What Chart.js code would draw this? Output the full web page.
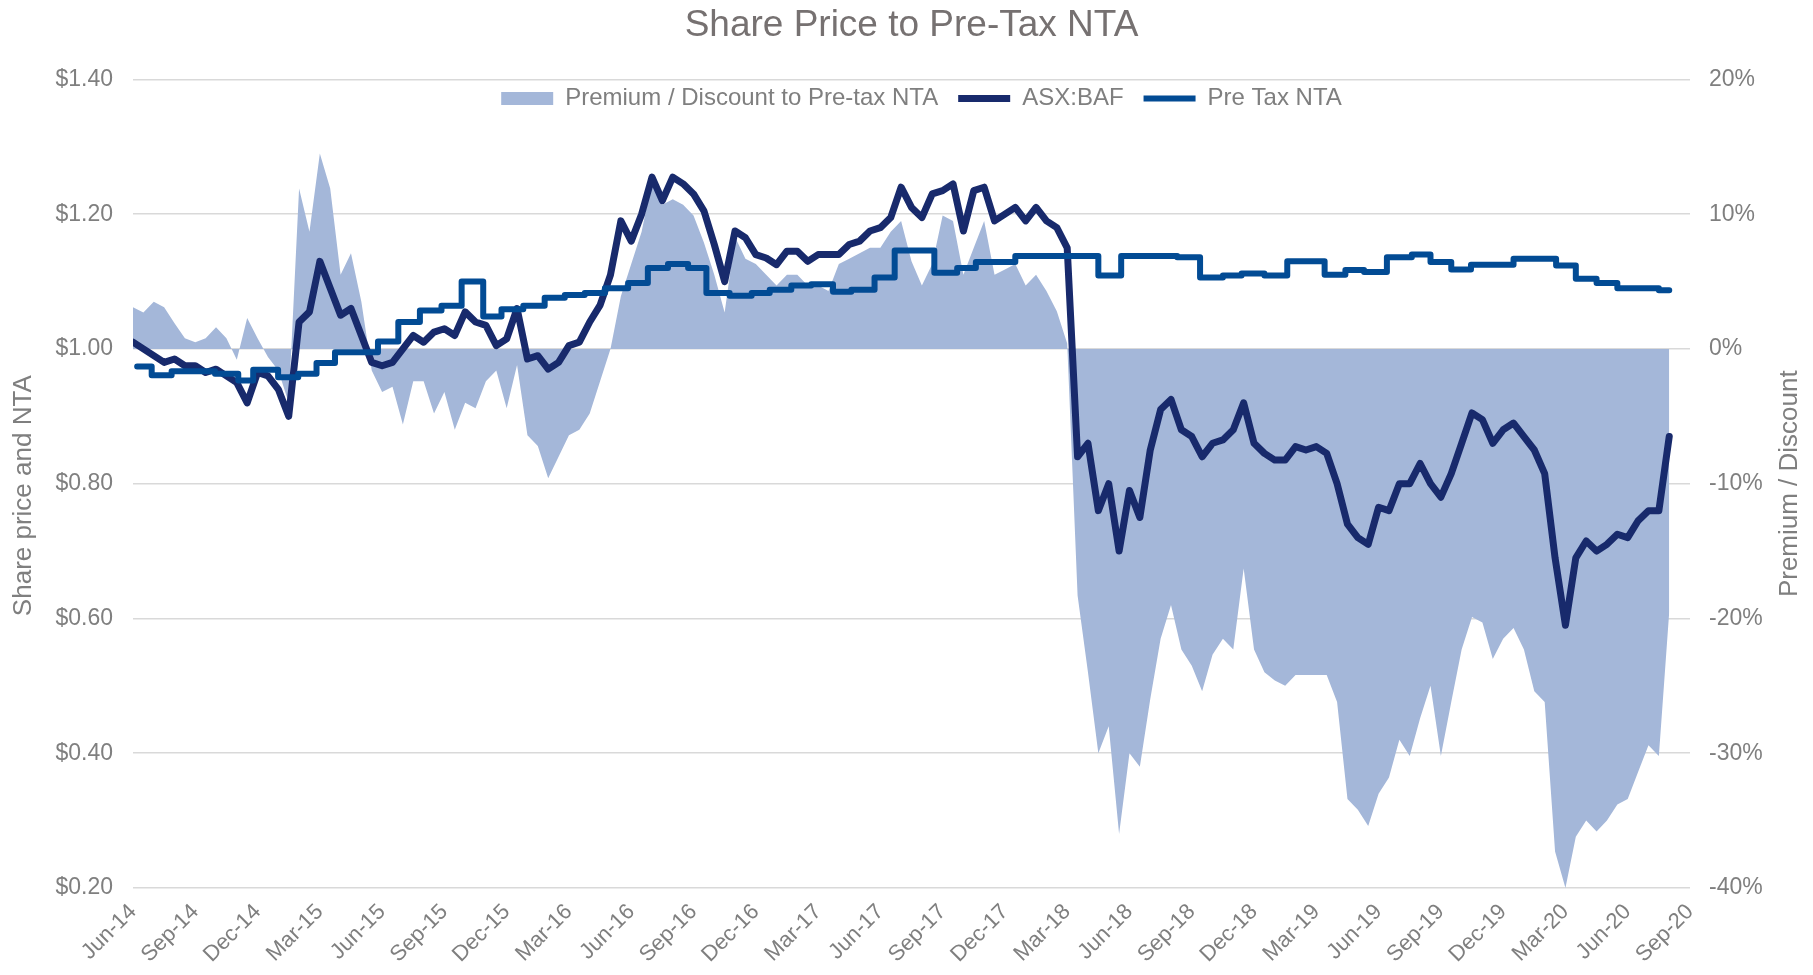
<!DOCTYPE html>
<html>
<head>
<meta charset="utf-8">
<title>Share Price to Pre-Tax NTA</title>
<script src="https://cdn.jsdelivr.net/npm/chart.js@4.4.1/dist/chart.umd.min.js"></script>
<style>
  html, body { margin: 0; padding: 0; background: #fff; }
  #wrap { width: 1813px; height: 975px; }
</style>
</head>
<body>
<div id="wrap"><canvas id="chartNta" width="1813" height="975"></canvas></div>
<script>
// x axis runs in months, month 0 = Jun-14, one label every 3 months
var tickLabels = ['Jun-14','Sep-14','Dec-14','Mar-15','Jun-15','Sep-15','Dec-15','Mar-16','Jun-16',
  'Sep-16','Dec-16','Mar-17','Jun-17','Sep-17','Dec-17','Mar-18','Jun-18','Sep-18','Dec-18',
  'Mar-19','Jun-19','Sep-19','Dec-19','Mar-20','Jun-20','Sep-20'];

// ASX:BAF share price, one reading every half month from Jun-14
var priceStep = 0.5;
var sharePrice = [
  1.01, 1.00, 0.99, 0.98, 0.985, 0.975, 0.975, 0.965, 0.97, 0.96,
  0.95, 0.92, 0.965, 0.96, 0.94, 0.90, 1.04, 1.055, 1.13, 1.09,
  1.05, 1.06, 1.02, 0.98, 0.975, 0.98, 1.00, 1.02, 1.01, 1.025,
  1.03, 1.02, 1.055, 1.04, 1.035, 1.005, 1.015, 1.06, 0.985, 0.99,
  0.97, 0.98, 1.005, 1.01, 1.04, 1.065, 1.11, 1.19, 1.16, 1.20,
  1.255, 1.22, 1.255, 1.245, 1.23, 1.205, 1.155, 1.10, 1.175, 1.165,
  1.14, 1.135, 1.125, 1.145, 1.145, 1.13, 1.14, 1.14, 1.14, 1.155,
  1.16, 1.175, 1.18, 1.195, 1.24, 1.21, 1.195, 1.23, 1.235, 1.245,
  1.175, 1.235, 1.24, 1.19, 1.20, 1.21, 1.19, 1.21, 1.19, 1.18,
  1.15, 0.84, 0.86, 0.76, 0.80, 0.70, 0.79, 0.75, 0.85, 0.91,
  0.925, 0.88, 0.87, 0.84, 0.86, 0.865, 0.88, 0.92, 0.86, 0.845,
  0.835, 0.835, 0.855, 0.85, 0.855, 0.845, 0.80, 0.74, 0.72, 0.71,
  0.765, 0.76, 0.80, 0.80, 0.83, 0.80, 0.78, 0.815, 0.86, 0.905,
  0.895, 0.86, 0.88, 0.89, 0.87, 0.85, 0.815, 0.69, 0.59, 0.69,
  0.715, 0.70, 0.71, 0.725, 0.72, 0.745, 0.76, 0.76, 0.87
];

// premium (+) / discount (-) to pre-tax NTA in %, every half month
var premiumStep = 0.5;
var premium = [
  3.1, 2.7, 3.5, 3.1, 1.9, 0.8, 0.5, 0.8, 1.6, 0.8,
  -0.8, 2.3, 0.8, -0.6, -1.6, -4.0, 11.9, 8.7, 14.5, 11.9,
  5.5, 7.1, 3.5, -1.6, -3.2, -2.8, -5.6, -2.4, -2.4, -4.8,
  -3.2, -6.0, -4.0, -4.4, -2.4, -1.6, -4.4, -1.2, -6.4, -7.2,
  -9.6, -8.0, -6.4, -6.0, -4.8, -2.4, 0.0, 3.9, 6.3, 8.7,
  12.5, 10.7, 11.1, 10.7, 9.9, 7.9, 5.5, 2.7, 8.3, 6.7,
  6.3, 5.5, 4.7, 5.5, 5.5, 4.7, 4.7, 4.3, 6.3, 6.7,
  7.1, 7.5, 7.5, 8.7, 9.5, 6.5, 4.7, 6.3, 9.9, 9.5,
  5.5, 7.5, 9.5, 5.5, 5.9, 6.3, 4.7, 5.5, 4.3, 2.8,
  0.4, -18.3, -24, -30, -28, -36, -30, -31, -26, -21.5,
  -19, -22.3, -23.5, -25.4, -22.7, -21.5, -22.3, -16.3, -22.3, -24,
  -24.6, -25, -24.2, -24.2, -24.2, -24.2, -26.2, -33.4, -34.2, -35.4,
  -33, -31.8, -29, -30.2, -27.4, -25, -30.2, -26.2, -22.3, -19.9,
  -20.3, -23, -21.5, -20.7, -22.3, -25.4, -26.2, -37.3, -40, -36.2,
  -35, -35.8, -35, -33.8, -33.4, -31.4, -29.4, -30.2, -19.5
];

// pre-tax NTA: month where each new value starts, and the value
var ntaMonths = [0.2, 0.9, 1.86, 3.95, 5.07, 5.79, 6.99, 7.96, 8.84, 9.73,
  11.8, 12.78, 13.82, 14.86, 15.83, 16.87, 17.75, 18.8, 19.83, 20.8,
  21.76, 22.73, 23.85, 24.8, 25.77, 26.74, 27.62, 28.74, 29.8, 30.67,
  31.71, 32.67, 33.72, 34.6, 35.72, 36.69, 38.6, 39.7, 40.6, 42.5,
  46.5, 47.6, 50.3, 51.4, 52.5, 53.4, 54.5, 55.6, 57.4, 58.4,
  59.3, 60.4, 61.6, 62.5, 63.5, 64.45, 66.5, 68.55, 69.5, 70.5,
  71.5, 73.5, 74.0];
var ntaValues = [0.974, 0.961, 0.967, 0.963, 0.953, 0.969, 0.958, 0.963, 0.979, 0.995,
  1.011, 1.040, 1.057, 1.064, 1.100, 1.048, 1.059, 1.064, 1.076, 1.080,
  1.083, 1.090, 1.098, 1.120, 1.126, 1.120, 1.083, 1.079, 1.083, 1.088,
  1.094, 1.096, 1.085, 1.088, 1.106, 1.146, 1.113, 1.120, 1.129, 1.138,
  1.109, 1.138, 1.136, 1.106, 1.109, 1.112, 1.109, 1.130, 1.110, 1.117,
  1.114, 1.136, 1.140, 1.129, 1.118, 1.125, 1.134, 1.124, 1.104, 1.098,
  1.090, 1.087, 1.087];

var grey = '#7f7f7f';
var fontFamily = '"Liberation Sans", Arial, sans-serif';
Chart.defaults.font.family = fontFamily;
Chart.defaults.color = grey;

function toPoints(vals, step) {
  var pts = [];
  for (var i = 0; i < vals.length; i++) {
    pts.push({x: i * step, y: vals[i]});
  }
  return pts;
}

var ntaPoints = [];
for (var i = 0; i < ntaMonths.length; i++) {
  ntaPoints.push({x: ntaMonths[i], y: ntaValues[i]});
}

// legend sits over the top of the plot, like the excel one
var legendOverPlot = {
  id: 'legendOverPlot',
  beforeLayout: function(chart) {
    var lg = chart.legend;
    if (lg && !lg._squeezed) {
      var fit = lg.fit;
      lg.fit = function() {
        fit.call(this);
        this.height = 13;
      };
      lg._squeezed = true;
    }
  },
  afterLayout: function(chart) {
    if (chart.legend) {
      chart.legend.height = 50;
      chart.legend.bottom = chart.legend.top + 50;
      chart.legend.left += 20;
    }
  }
};

// both axis titles read bottom to top
var axisTitles = {
  id: 'axisTitles',
  afterDraw: function(chart) {
    var ctx = chart.ctx;
    var area = chart.chartArea;
    var mid = (area.top + area.bottom) / 2;
    ctx.save();
    ctx.font = '26px ' + fontFamily;
    ctx.fillStyle = grey;
    ctx.textAlign = 'center';
    ctx.textBaseline = 'middle';

    ctx.save();
    ctx.translate(24, mid + 12);
    ctx.rotate(-Math.PI / 2);
    ctx.fillText('Share price and NTA', 0, 0);
    ctx.restore();

    ctx.save();
    ctx.translate(chart.width - 23, mid);
    ctx.rotate(-Math.PI / 2);
    ctx.fillText('Premium / Discount', 0, 0);
    ctx.restore();

    ctx.restore();
  }
};

var cxt = document.getElementById('chartNta');
var chart = new Chart(cxt, {
  type: 'line',
  data: {
    datasets: [
      {
        label: 'Premium / Discount to Pre-tax NTA',
        data: toPoints(premium, premiumStep),
        yAxisID: 'y1',
        fill: 'origin',
        backgroundColor: 'rgb(164,183,217)',
        borderColor: 'rgba(0,0,0,0)',
        borderWidth: 0,
        pointRadius: 0,
        pointStyle: 'rect',
        order: 3
      },
      {
        label: 'ASX:BAF',
        data: toPoints(sharePrice, priceStep),
        yAxisID: 'y',
        fill: false,
        borderColor: '#182a6c',
        backgroundColor: '#182a6c',
        borderWidth: 7,
        borderCapStyle: 'round',
        borderJoinStyle: 'round',
        pointRadius: 0,
        pointStyle: 'line',
        order: 2
      },
      {
        label: 'Pre Tax NTA',
        data: ntaPoints,
        yAxisID: 'y',
        stepped: true,
        fill: false,
        borderColor: '#024b94',
        backgroundColor: '#024b94',
        borderWidth: 6,
        borderCapStyle: 'round',
        borderJoinStyle: 'round',
        pointRadius: 0,
        pointStyle: 'line',
        order: 1
      }
    ]
  },
  options: {
    responsive: false,
    animation: false,
    devicePixelRatio: 1,
    layout: { padding: { left: 0, right: 0, top: 0, bottom: 7 } },
    plugins: {
      title: {
        display: true,
        fullSize: false,
        text: 'Share Price to Pre-Tax NTA',
        color: '#767171',
        font: { size: 37, weight: 'normal' },
        padding: { top: 4, bottom: 18 }
      },
      legend: {
        position: 'top',
        fullSize: false,
        labels: {
          usePointStyle: true,
          pointStyleWidth: 52,
          boxHeight: 13,
          padding: 20,
          color: grey,
          font: { size: 24 },
          sort: function(a, b) { return a.datasetIndex - b.datasetIndex; }
        }
      },
      tooltip: { enabled: false }
    },
    scales: {
      x: {
        type: 'linear',
        min: 0,
        max: 75,
        grid: { display: false, drawTicks: false },
        border: { display: false },
        afterFit: function(scale) { scale.height = 80; },
        ticks: {
          stepSize: 3,
          autoSkip: false,
          minRotation: 45,
          maxRotation: 45,
          padding: 11,
          color: grey,
          font: { size: 22 },
          callback: function(v) { return tickLabels[Math.round(v / 3)]; }
        }
      },
      y: {
        position: 'left',
        min: 0.2,
        max: 1.4,
        grid: { color: '#d9d9d9', lineWidth: 1.5, drawTicks: false },
        border: { display: false },
        afterFit: function(scale) { scale.width = 133; },
        ticks: {
          stepSize: 0.2,
          padding: 20,
          color: grey,
          font: { size: 23 },
          callback: function(v) { return '$' + v.toFixed(2); }
        }
      },
      y1: {
        position: 'right',
        min: -40,
        max: 20,
        grid: { display: false, drawTicks: false },
        border: { display: false },
        afterFit: function(scale) { scale.width = 123; },
        ticks: {
          stepSize: 10,
          padding: 19,
          color: grey,
          font: { size: 23 },
          callback: function(v) { return v + '%'; }
        }
      }
    }
  },
  plugins: [legendOverPlot, axisTitles]
});
</script>
</body>
</html>
